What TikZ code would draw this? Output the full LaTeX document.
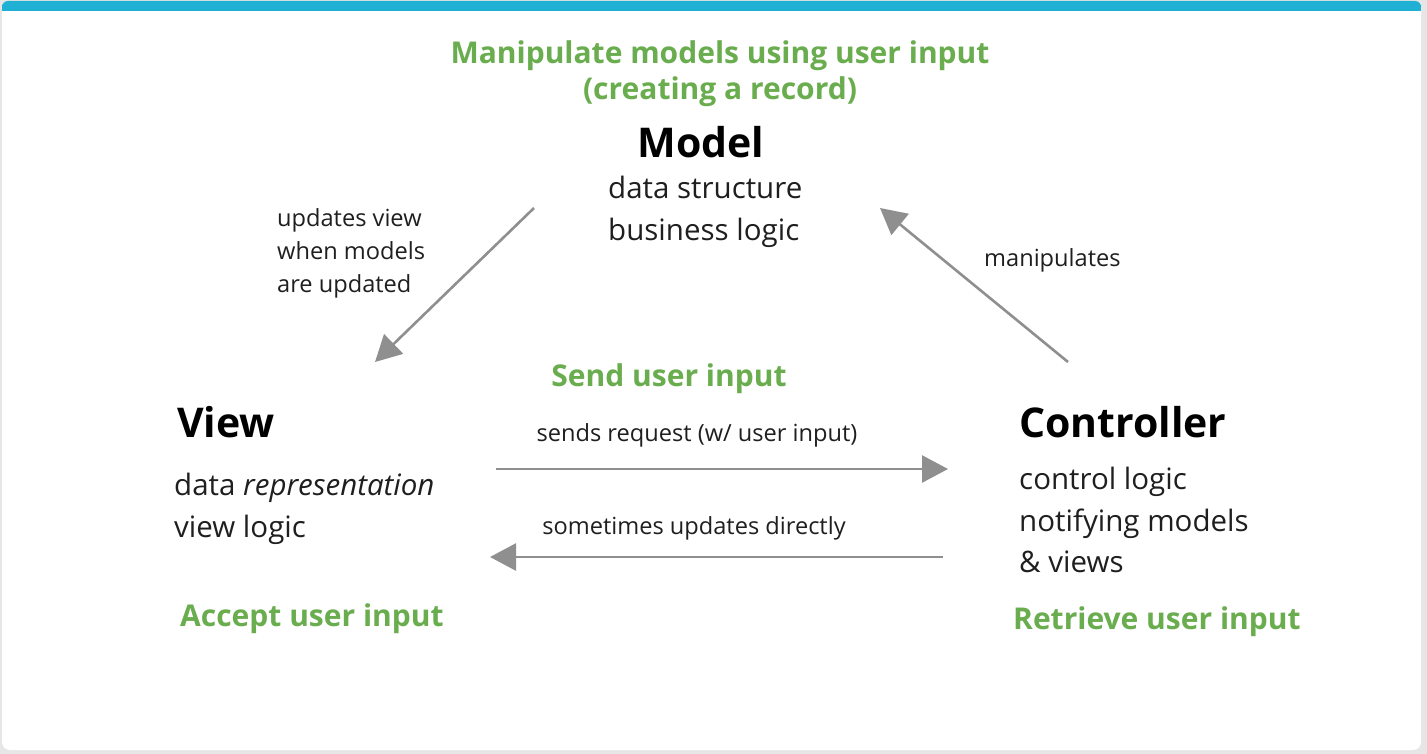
\documentclass[tikz,border=0pt]{standalone}
\usepackage{fontspec}
\setmainfont{Open Sans}
\usetikzlibrary{arrows.meta}
\definecolor{grn}{HTML}{6AAD4F}
\definecolor{arr}{HTML}{8F8F8F}
\definecolor{bar}{HTML}{1FB0D4}
\definecolor{bgc}{HTML}{E6E6E6}
\tikzset{
  title/.style={font=\fontsize{41}{46}\selectfont\bfseries, text=black, inner sep=0pt},
  body/.style={font=\fontsize{29.5}{41.5}\selectfont, text=black!88, inner sep=0pt, align=left},
  small/.style={font=\fontsize{23.6}{33}\selectfont, text=black!88, inner sep=0pt, align=left},
  green/.style={font=\fontsize{30}{36}\selectfont\bfseries, text=grn, inner sep=0pt, align=center},
  conn/.style={draw=arr, line width=2.6pt, -{Triangle[length=26pt,width=27pt]}}
}
\begin{document}
\begin{tikzpicture}[x=1pt,y=-1pt]
\useasboundingbox (0,0) rectangle (1427,754);
\fill[bgc] (0,0) rectangle (1427,754);
\fill[white, rounded corners=8pt] (2,2) rectangle (1421,750);
\fill[bar, rounded corners=6pt] (2,1) rectangle (1421,11);
\fill[bar] (2,6) rectangle (1421,11);

\node[green] (top) at (720,74) {Manipulate models using user input\\(creating a record)};
\node[title, anchor=center] (model) at (701,142) {Model};
\node[body, anchor=north west] (modeltxt) at (608,176) {data structure\\business logic};

\node[title, anchor=west] (view) at (177,422) {View};
\node[body, anchor=north west] (viewtxt) at (174,473) {data \textit{representation}\\view logic};
\node[green, anchor=west] (accept) at (180,619) {Accept user input};

\node[title, anchor=west] (ctrl) at (1019,422) {Controller};
\node[body, anchor=north west] (ctrltxt) at (1019,467) {control logic\\notifying models\\\& views};
\node[green, anchor=west] (retr) at (1013,622) {Retrieve user input};

\node[green] (send) at (669,379) {Send user input};
\node[small] (sreq) at (697,435.5) {sends request (w/ user input)};
\node[small] (sdir) at (694,528.5) {sometimes updates directly};

\node[small, anchor=north west] (upd) at (277,208.5) {updates view\\when models\\are updated};
\node[small, anchor=west] (manip) at (984,260) {manipulates};

\coordinate (m1) at (534,208);
\coordinate (v1) at (375,362);
\coordinate (c1) at (1068,362);
\coordinate (m2) at (880,208);
\coordinate (v2) at (496,469);
\coordinate (c2) at (948,469);
\coordinate (c3) at (943,557);
\coordinate (v3) at (490,557);

\draw[conn] (m1) -- (v1);
\draw[conn] (c1) -- (m2);
\draw[conn] (v2) -- (c2);
\draw[conn] (c3) -- (v3);
\end{tikzpicture}
\end{document}
